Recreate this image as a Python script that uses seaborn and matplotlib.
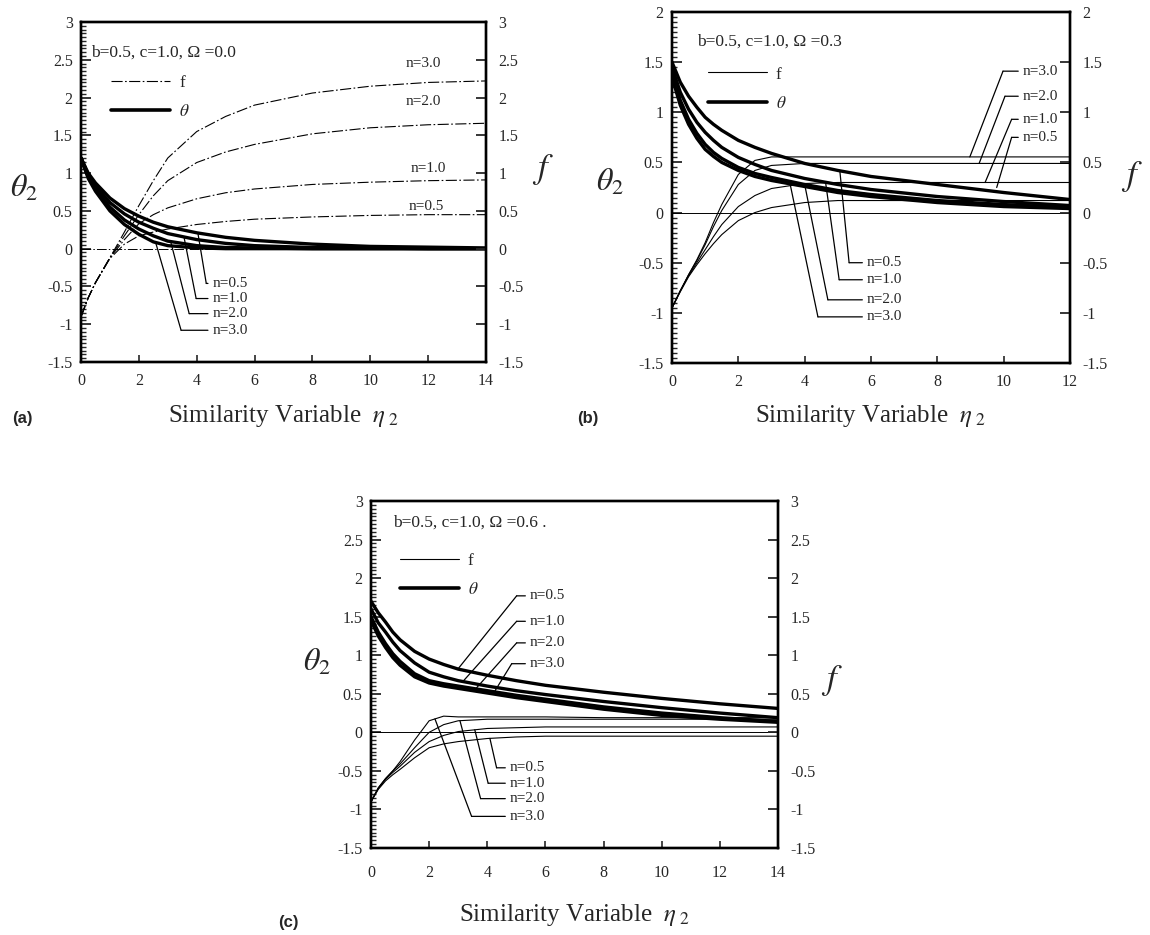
import numpy as np
import pandas as pd
import matplotlib
matplotlib.use("Agg")
import matplotlib.pyplot as plt
import seaborn as sns
from matplotlib.ticker import MultipleLocator, FuncFormatter
from matplotlib.lines import Line2D

sns.set_style("ticks")
plt.rcParams["font.family"] = ["Liberation Serif", "DejaVu Serif"]
plt.rcParams["mathtext.fontset"] = "stix"
plt.rcParams["axes.unicode_minus"] = False

n_labels = ["0.5", "1.0", "2.0", "3.0"]

# ---------------- panel (a): Omega = 0.0 ----------------
eta_a = [0, 0.25, 0.5, 1, 1.5, 2, 2.5, 3, 4, 5, 6, 8, 10, 12, 14]
theta_a = {
    "0.5": [1.2, 1.0, 0.87, 0.67, 0.53, 0.43, 0.35, 0.29, 0.21, 0.15, 0.11, 0.06, 0.03, 0.02, 0.01],
    "1.0": [1.2, 0.97, 0.83, 0.61, 0.46, 0.35, 0.27, 0.2, 0.12, 0.07, 0.04, 0.015, 0.01, 0.0, 0.0],
    "2.0": [1.2, 0.95, 0.79, 0.55, 0.38, 0.26, 0.17, 0.1, 0.04, 0.015, 0.01, 0.0, 0.0, 0.0, 0.0],
    "3.0": [1.2, 0.93, 0.76, 0.5, 0.32, 0.19, 0.09, 0.04, 0.01, 0.0, 0.0, 0.0, 0.0, 0.0, 0.0],
}
f_a = {
    "0.5": [-0.9, -0.65, -0.45, -0.13, 0.06, 0.17, 0.22, 0.26, 0.32, 0.36, 0.39, 0.42, 0.44, 0.45, 0.45],
    "1.0": [-0.9, -0.65, -0.45, -0.12, 0.12, 0.33, 0.45, 0.54, 0.66, 0.74, 0.79, 0.85, 0.88, 0.9, 0.91],
    "2.0": [-0.9, -0.65, -0.45, -0.12, 0.17, 0.45, 0.7, 0.9, 1.14, 1.28, 1.38, 1.52, 1.6, 1.64, 1.66],
    "3.0": [-0.9, -0.65, -0.45, -0.12, 0.22, 0.57, 0.9, 1.2, 1.55, 1.75, 1.9, 2.06, 2.15, 2.2, 2.22],
}

# ---------------- panel (b): Omega = 0.3 ----------------
eta_b = [0, 0.25, 0.5, 0.75, 1, 1.25, 1.5, 2, 2.5, 3, 4, 5, 6, 8, 10, 12]
theta_b = {
    "0.5": [1.5, 1.3, 1.16, 1.05, 0.95, 0.88, 0.82, 0.72, 0.65, 0.59, 0.49, 0.42, 0.36, 0.28, 0.2, 0.13],
    "1.0": [1.45, 1.2, 1.03, 0.9, 0.8, 0.72, 0.65, 0.55, 0.48, 0.42, 0.34, 0.28, 0.23, 0.16, 0.11, 0.07],
    "2.0": [1.4, 1.12, 0.93, 0.79, 0.68, 0.6, 0.54, 0.45, 0.39, 0.35, 0.28, 0.22, 0.18, 0.12, 0.08, 0.05],
    "3.0": [1.35, 1.07, 0.88, 0.74, 0.63, 0.56, 0.5, 0.42, 0.36, 0.32, 0.26, 0.2, 0.16, 0.1, 0.06, 0.04],
}
f_b = {
    "0.5": [-0.95, -0.79, -0.64, -0.52, -0.41, -0.31, -0.22, -0.08, 0.0, 0.05, 0.1, 0.12, 0.12, 0.12, 0.12, 0.12],
    "1.0": [-0.95, -0.78, -0.63, -0.5, -0.37, -0.24, -0.12, 0.06, 0.17, 0.24, 0.29, 0.3, 0.3, 0.3, 0.3, 0.3],
    "2.0": [-0.95, -0.78, -0.62, -0.48, -0.32, -0.14, 0.02, 0.28, 0.42, 0.47, 0.49, 0.49, 0.49, 0.49, 0.49, 0.49],
    "3.0": [-0.95, -0.78, -0.62, -0.47, -0.3, -0.1, 0.08, 0.38, 0.52, 0.555, 0.555, 0.555, 0.555, 0.555, 0.555, 0.555],
}

# ---------------- panel (c): Omega = 0.6 ----------------
eta_c = [0, 0.25, 0.5, 0.75, 1, 1.5, 2, 2.5, 3, 4, 5, 6, 8, 10, 12, 14]
theta_c = {
    "0.5": [1.7, 1.55, 1.43, 1.3, 1.2, 1.05, 0.95, 0.88, 0.82, 0.74, 0.67, 0.61, 0.52, 0.44, 0.37, 0.31],
    "1.0": [1.6, 1.42, 1.3, 1.17, 1.06, 0.9, 0.78, 0.72, 0.67, 0.6, 0.54, 0.49, 0.4, 0.32, 0.25, 0.19],
    "2.0": [1.5, 1.3, 1.15, 1.02, 0.92, 0.76, 0.67, 0.63, 0.6, 0.54, 0.48, 0.43, 0.33, 0.25, 0.19, 0.14],
    "3.0": [1.45, 1.25, 1.1, 0.97, 0.87, 0.72, 0.64, 0.6, 0.57, 0.51, 0.45, 0.4, 0.3, 0.22, 0.17, 0.13],
}
f_c = {
    "0.5": [-0.9, -0.74, -0.63, -0.55, -0.48, -0.33, -0.2, -0.15, -0.12, -0.08, -0.06, -0.05, -0.05, -0.05, -0.05, -0.05],
    "1.0": [-0.9, -0.73, -0.61, -0.52, -0.44, -0.26, -0.12, -0.04, 0.01, 0.05, 0.06, 0.07, 0.07, 0.07, 0.07, 0.07],
    "2.0": [-0.9, -0.72, -0.6, -0.5, -0.41, -0.2, 0.0, 0.1, 0.15, 0.17, 0.17, 0.17, 0.17, 0.17, 0.17, 0.17],
    "3.0": [-0.9, -0.72, -0.6, -0.5, -0.38, -0.1, 0.15, 0.21, 0.2, 0.2, 0.2, 0.2, 0.19, 0.19, 0.19, 0.19],
}

params_text = ["b=0.5, c=1.0, Ω =0.0", "b=0.5, c=1.0, Ω =0.3", "b=0.5, c=1.0, Ω =0.6 ."]
panel_tags = ["(a)", "(b)", "(c)"]


def long_df(eta, curves):
    rows = [(e, v, n) for n, ys in curves.items() for e, v in zip(eta, ys)]
    return pd.DataFrame(rows, columns=["eta", "value", "n"])


fig = plt.figure(figsize=(11.5, 9.35), dpi=100)

W, H = 1150.0, 935.0


def make_axes(px_left, px_top, px_right, px_bottom):
    return fig.add_axes([px_left / W, 1 - px_bottom / H, (px_right - px_left) / W, (px_bottom - px_top) / H])


fmt = FuncFormatter(lambda v, p: f"{v:g}")
TICK_FS = 11.5
NLAB_FS = 11


def setup(ax, xmax, ylim, xpad, f_ls, ylab_pos, flab_pos, xlab_y, txt, txt_pos, leg_pos):
    ax.set_xlim(0, xmax)
    ax.set_ylim(*ylim)
    ax.xaxis.set_major_locator(MultipleLocator(2))
    ax.yaxis.set_major_locator(MultipleLocator(0.5))
    ax.yaxis.set_minor_locator(MultipleLocator(0.05))
    ax.yaxis.set_major_formatter(fmt)
    ax.tick_params(axis="y", which="major", direction="in", length=7, width=1.3,
                   pad=6, labelsize=TICK_FS, right=False)
    ax.tick_params(axis="y", which="minor", direction="in", length=3.5, width=1.0, right=False)
    ax.tick_params(axis="x", which="major", direction="in", length=5, width=1.2,
                   pad=xpad, labelsize=TICK_FS, top=False)
    ax.set_xlabel("")
    ax.set_ylabel("")
    for s in ax.spines.values():
        s.set_linewidth(1.7)
        s.set_color("k")
    axr = ax.twinx()
    axr.set_ylim(*ylim)
    axr.yaxis.set_major_locator(MultipleLocator(0.5))
    axr.yaxis.set_major_formatter(fmt)
    axr.tick_params(axis="y", which="major", direction="in", length=7, width=1.3,
                    pad=9, labelsize=TICK_FS, left=False)
    for s in axr.spines.values():
        s.set_linewidth(1.7)
        s.set_color("k")
    ax.text(*ylab_pos, r"$\theta_2$", transform=ax.transAxes, fontsize=23, ha="center", va="center")
    ax.text(*flab_pos, r"$f$", transform=ax.transAxes, fontsize=25, ha="center", va="center")
    ax.text(0.5, xlab_y, r"Similarity Variable  $\eta_{\ 2}$", transform=ax.transAxes,
            fontsize=18, ha="center", va="center")
    ax.text(*txt_pos, txt, transform=ax.transAxes, fontsize=12.5, ha="left", va="center")
    handles = [Line2D([], [], color="k", lw=0.8, ls=f_ls), Line2D([], [], color="k", lw=2.6)]
    ax.legend(handles, ["f", r"$\theta$"], loc="upper left", bbox_to_anchor=leg_pos,
              frameon=False, handlelength=3.4, handletextpad=0.5, labelspacing=0.75,
              borderpad=0, borderaxespad=0, prop={"size": 12.5})
    ax.axhline(0, color="k", lw=0.7, ls=f_ls, zorder=1)
    return axr


def draw(ax, eta, theta, f, f_ls):
    sns.lineplot(data=long_df(eta, f), x="eta", y="value", units="n", estimator=None,
                 color="k", lw=0.8, linestyle=f_ls, ax=ax, legend=False, sort=False)
    sns.lineplot(data=long_df(eta, theta), x="eta", y="value", units="n", estimator=None,
                 color="k", lw=2.4, ax=ax, legend=False, sort=False)


def leader(ax, label, tip, corner, label_x):
    ax.annotate("", xy=tip, xytext=corner,
                arrowprops=dict(arrowstyle="-", lw=0.9, color="k", shrinkA=0, shrinkB=0))
    ax.annotate(label, xy=corner, xytext=(label_x, corner[1]), ha="left", va="center", fontsize=NLAB_FS,
                arrowprops=dict(arrowstyle="-", lw=0.9, color="k", shrinkA=1, shrinkB=0, relpos=(0, 0.5)))


dashdot = (0, (10, 2.2, 1.5, 2.2))

# ----- (a)
axa = make_axes(81, 22, 486, 362)
draw(axa, eta_a, theta_a, f_a, dashdot)
setup(axa, 14, (-1.5, 3.0), 8, dashdot, (-0.14, 0.51), (1.14, 0.565), -0.16,
      params_text[0], (0.025, 0.909), (0.075, 0.845))
for lab, (tx, ty) in zip(n_labels, [(11.95, 0.56), (12.0, 1.06), (11.82, 1.95), (11.82, 2.45)]):
    axa.text(tx, ty, "n=" + lab, ha="center", va="center", fontsize=NLAB_FS)
for lab, tipx, corner, lx in zip(
        n_labels, [4.04, 3.56, 3.1, 2.58],
        [(4.33, -0.46), (3.98, -0.66), (3.74, -0.86), (3.46, -1.08)], [4.55] * 4):
    leader(axa, "n=" + lab, (tipx, float(np.interp(tipx, eta_a, theta_a[lab]))), corner, lx)

# ----- (b)
axb = make_axes(672, 12, 1070, 363)
draw(axb, eta_b, theta_b, f_b, "-")
setup(axb, 12, (-1.5, 2.0), 8, "-", (-0.155, 0.515), (1.155, 0.53), -0.15,
      params_text[1], (0.063, 0.915), (0.09, 0.845))
for lab, tipx, corner, lx in zip(
        n_labels, [5.06, 4.63, 4.0, 3.56],
        [(5.34, -0.5), (5.04, -0.67), (4.7, -0.87), (4.4, -1.04)], [5.88] * 4):
    leader(axb, "n=" + lab, (tipx, float(np.interp(tipx, eta_b, theta_b[lab]))), corner, lx)
for lab, tip, corner in zip(
        n_labels,
        [(9.79, 0.25), (9.44, 0.3), (9.26, 0.49), (8.98, 0.555)],
        [(10.24, 0.75), (10.24, 0.93), (10.04, 1.16), (9.98, 1.41)]):
    leader(axb, "n=" + lab, tip, corner, 10.58)

# ----- (c)
axc = make_axes(371, 501, 778, 848)
draw(axc, eta_c, theta_c, f_c, "-")
setup(axc, 14, (-1.5, 3.0), 12, "-", (-0.133, 0.533), (1.133, 0.484), -0.193,
      params_text[2], (0.054, 0.937), (0.071, 0.85))
for lab, tipx, corner in zip(
        n_labels, [2.99, 3.16, 3.6, 4.2],
        [(5.01, 1.77), (5.01, 1.44), (5.01, 1.16), (4.84, 0.89)]):
    leader(axc, "n=" + lab, (tipx, float(np.interp(tipx, eta_c, theta_c[lab]))), corner, 5.47)
for lab, tipx, corner in zip(
        n_labels, [4.09, 3.57, 3.06, 2.2],
        [(4.32, -0.46), (4.03, -0.66), (3.77, -0.86), (3.46, -1.09)]):
    leader(axc, "n=" + lab, (tipx, float(np.interp(tipx, eta_c, f_c[lab]))), corner, 4.78)

for tag, (x, y) in zip(panel_tags, [(12, 418), (577, 418), (278, 923)]):
    fig.text(x / W, 1 - y / H, tag, family=["Liberation Sans", "DejaVu Sans"], weight="bold",
             fontsize=12, ha="left", va="center")

fig.savefig("out.png", dpi=100)
